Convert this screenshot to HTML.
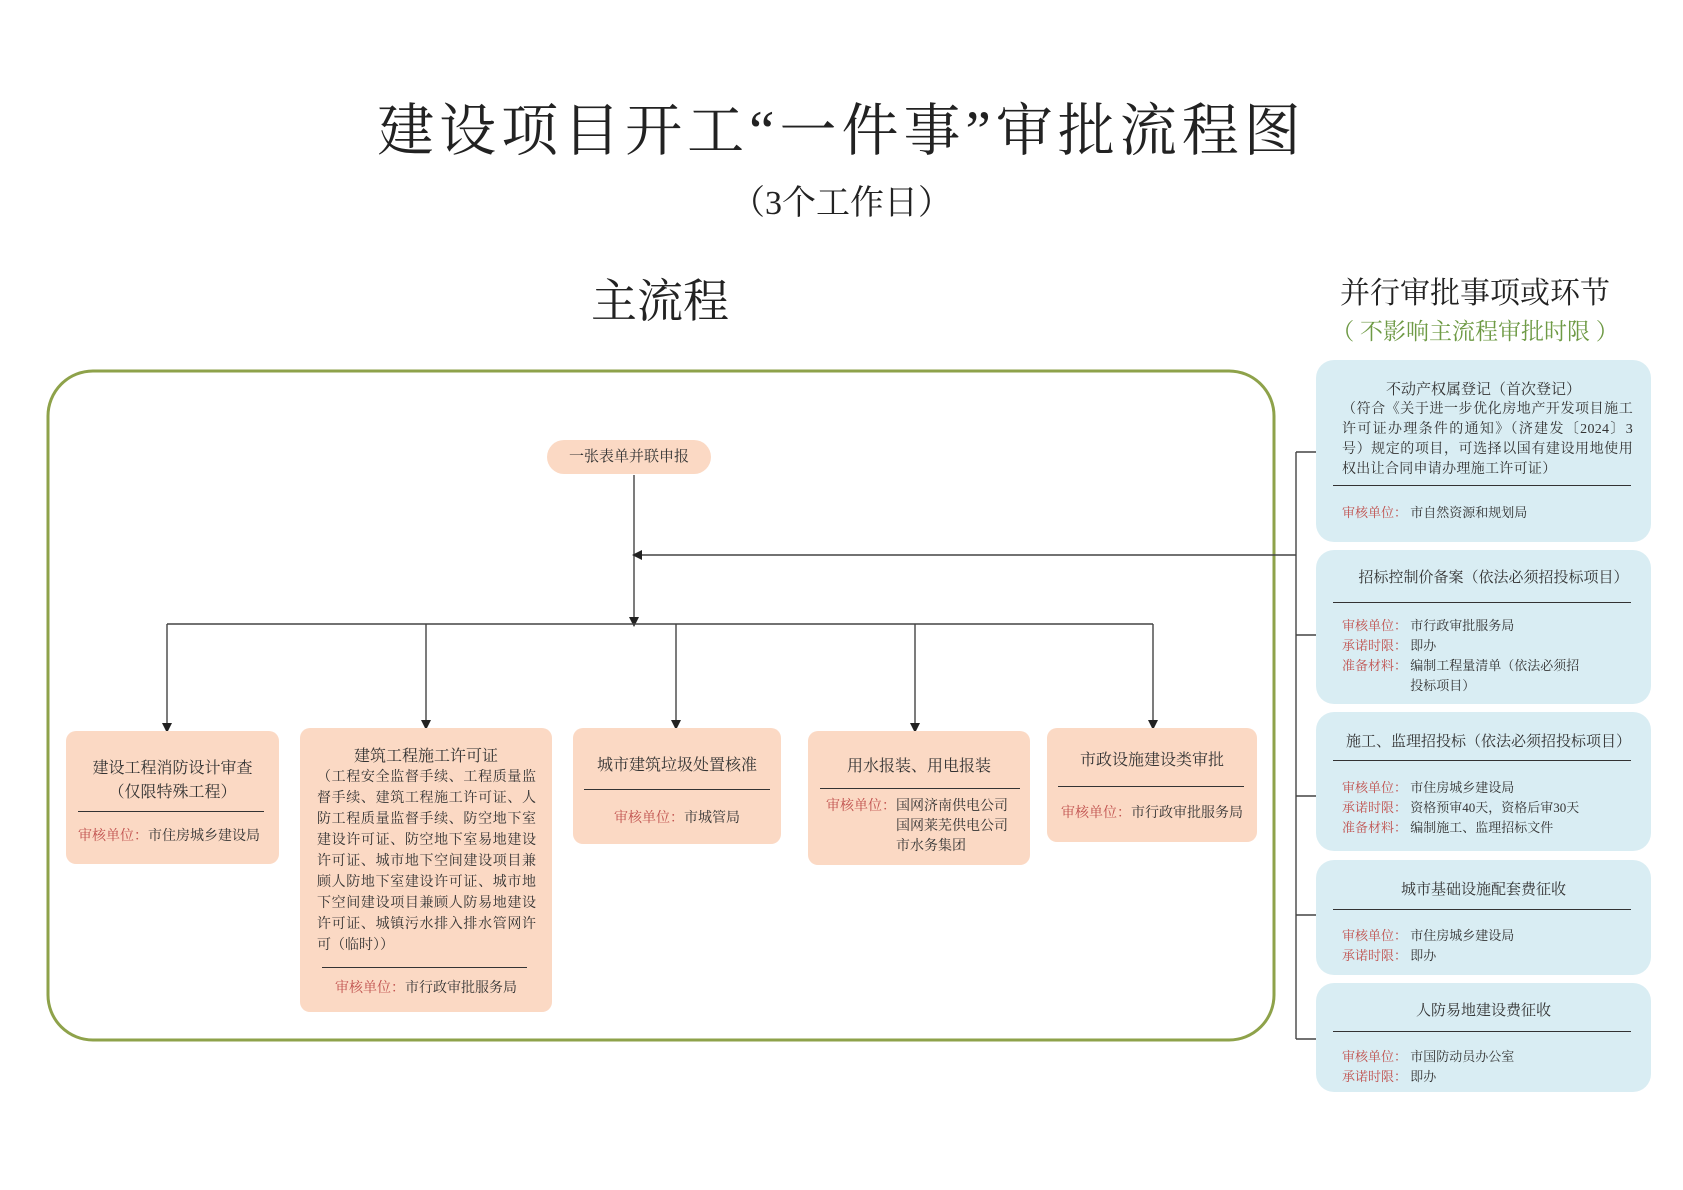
<!DOCTYPE html>
<html><head><meta charset="utf-8">
<style>
body{margin:0;width:1683px;height:1190px;background:#fff;position:relative;overflow:hidden;font-family:"Liberation Serif","Noto Serif CJK SC",serif;color:#333}
.a{position:absolute}
.c{text-align:center}
.o{background:#fbd9c4;border-radius:10px;position:absolute;font-size:15px;line-height:21px}
.b{background:#d9edf3;border-radius:18px;position:absolute;font-size:14px;line-height:20px}
.hr{border-top:1.5px solid #333;position:absolute}
.r{color:#c0504d}
</style></head><body>
<div class="a c" style="left:0;width:1683px;top:92px;font-size:57px;letter-spacing:5px;line-height:80px;color:#222">建设项目开工“一件事”审批流程图</div>
<div class="a c" style="left:0;width:1683px;top:182px;font-size:34px;line-height:44px;color:#222">（3个工作日）</div>
<div class="a c" style="left:560px;width:200px;top:272px;font-size:46px;line-height:60px;color:#222">主流程</div>
<div class="a c" style="left:1310px;width:330px;top:274px;font-size:30px;line-height:40px;color:#222">并行审批事项或环节</div>
<div class="a c" style="left:1310px;width:330px;top:317px;font-size:23px;line-height:30px;color:#6e9a45">（ 不影响主流程审批时限 ）</div>

<svg class="a" style="left:0;top:0" width="1683" height="1190">
<defs><marker id="m" markerWidth="10" markerHeight="10" refX="5" refY="5" orient="auto" markerUnits="userSpaceOnUse"><path d="M0,0 L10,5 L0,10 z" fill="#222"/></marker></defs>
<rect x="48" y="371" width="1226" height="669" rx="45" fill="none" stroke="#8ea24a" stroke-width="3"/>
<g stroke="#444" stroke-width="1.4" fill="none">
<line x1="634" y1="475" x2="634" y2="622" marker-end="url(#m)"/>
<line x1="1296" y1="555" x2="637" y2="555" marker-end="url(#m)"/>
<line x1="167" y1="624" x2="1153" y2="624"/>
<line x1="167" y1="624" x2="167" y2="728" marker-end="url(#m)"/>
<line x1="426" y1="624" x2="426" y2="725" marker-end="url(#m)"/>
<line x1="676" y1="624" x2="676" y2="725" marker-end="url(#m)"/>
<line x1="915" y1="624" x2="915" y2="728" marker-end="url(#m)"/>
<line x1="1153" y1="624" x2="1153" y2="725" marker-end="url(#m)"/>
<line x1="1296" y1="452" x2="1296" y2="1039"/>
<line x1="1296" y1="452" x2="1316" y2="452"/>
<line x1="1296" y1="635" x2="1316" y2="635"/>
<line x1="1296" y1="796" x2="1316" y2="796"/>
<line x1="1296" y1="915" x2="1316" y2="915"/>
<line x1="1296" y1="1039" x2="1316" y2="1039"/>
</g></svg>

<div class="o c" style="left:547px;top:440px;width:164px;height:34px;border-radius:17px;line-height:34px">一张表单并联申报</div>

<div class="o" style="left:66px;top:731px;width:213px;height:133px">
<div class="c" style="margin-top:26px;font-size:16px;line-height:24px">建设工程消防设计审查<br>（仅限特殊工程）</div>
<div class="hr" style="left:12px;right:15px;top:80px"></div>
<div class="a" style="left:12px;top:95px;font-size:14px"><span class="r">审核单位：</span>市住房城乡建设局</div></div>

<div class="o" style="left:300px;top:728px;width:252px;height:284px">
<div class="c" style="margin-top:18px;font-size:16px">建筑工程施工许可证</div>
<div style="padding:0 16px 0 17px;font-size:14px;line-height:21px;text-align:justify">（工程安全监督手续、工程质量监督手续、建筑工程施工许可证、人防工程质量监督手续、防空地下室建设许可证、防空地下室易地建设许可证、城市地下空间建设项目兼顾人防地下室建设许可证、城市地下空间建设项目兼顾人防易地建设许可证、城镇污水排入排水管网许可（临时））</div>
<div class="hr" style="left:22px;right:25px;top:239px"></div>
<div class="a c" style="left:0;right:0;top:250px;font-size:14px"><span class="r">审核单位：</span>市行政审批服务局</div></div>

<div class="o" style="left:573px;top:728px;width:208px;height:116px">
<div class="c" style="margin-top:27px;font-size:16px">城市建筑垃圾处置核准</div>
<div class="hr" style="left:11px;right:11px;top:61px"></div>
<div class="a c" style="left:0;right:0;top:80px;font-size:14px"><span class="r">审核单位：</span>市城管局</div></div>

<div class="o" style="left:808px;top:731px;width:222px;height:134px">
<div class="c" style="margin-top:25px;font-size:16px">用水报装、用电报装</div>
<div class="hr" style="left:12px;right:10px;top:57px"></div>
<div class="a" style="left:18px;top:66px;font-size:14px;line-height:20px"><span class="r">审核单位：</span>国网济南供电公司<br><span style="visibility:hidden">审核单位：</span>国网莱芜供电公司<br><span style="visibility:hidden">审核单位：</span>市水务集团</div></div>

<div class="o" style="left:1047px;top:728px;width:210px;height:114px">
<div class="c" style="margin-top:22px;font-size:16px">市政设施建设类审批</div>
<div class="hr" style="left:11px;right:13px;top:58px"></div>
<div class="a c" style="left:0;right:0;top:75px;font-size:14px"><span class="r">审核单位：</span>市行政审批服务局</div></div>

<div class="b" style="left:1316px;top:360px;width:335px;height:182px">
<div class="c" style="margin-top:20px;font-size:15px">不动产权属登记（首次登记）</div>
<div style="padding:0 18px 0 26px;font-size:14px;letter-spacing:0.3px;line-height:20px;text-align:justify">（符合《关于进一步优化房地产开发项目施工许可证办理条件的通知》（济建发〔2024〕3号）规定的项目，可选择以国有建设用地使用权出让合同申请办理施工许可证）</div>
<div class="hr" style="left:17px;right:20px;top:125px"></div>
<div class="a" style="left:26px;top:143px;font-size:13px"><span class="r">审核单位：</span> 市自然资源和规划局</div></div>

<div class="b" style="left:1316px;top:550px;width:335px;height:154px">
<div class="c" style="margin-top:18px;font-size:15px;padding-left:20px">招标控制价备案（依法必须招投标项目）</div>
<div class="hr" style="left:17px;right:20px;top:52px"></div>
<div class="a" style="left:26px;top:66px;font-size:13px;line-height:20px"><span class="r">审核单位：</span> 市行政审批服务局<br><span class="r">承诺时限：</span> 即办<br><span class="r">准备材料：</span> 编制工程量清单（依法必须招<br><span style="visibility:hidden">准备材料：</span> 投标项目）</div></div>

<div class="b" style="left:1316px;top:712px;width:335px;height:139px">
<div class="c" style="margin-top:20px;font-size:15px;padding-left:10px">施工、监理招投标（依法必须招投标项目）</div>
<div class="hr" style="left:17px;right:20px;top:48px"></div>
<div class="a" style="left:26px;top:66px;font-size:13px;line-height:20px"><span class="r">审核单位：</span> 市住房城乡建设局<br><span class="r">承诺时限：</span> 资格预审40天，资格后审30天<br><span class="r">准备材料：</span> 编制施工、监理招标文件</div></div>

<div class="b" style="left:1316px;top:860px;width:335px;height:115px">
<div class="c" style="margin-top:20px;font-size:15px">城市基础设施配套费征收</div>
<div class="hr" style="left:17px;right:20px;top:49px"></div>
<div class="a" style="left:26px;top:66px;font-size:13px;line-height:20px"><span class="r">审核单位：</span> 市住房城乡建设局<br><span class="r">承诺时限：</span> 即办</div></div>

<div class="b" style="left:1316px;top:983px;width:335px;height:109px">
<div class="c" style="margin-top:18px;font-size:15px">人防易地建设费征收</div>
<div class="hr" style="left:17px;right:20px;top:48px"></div>
<div class="a" style="left:26px;top:64px;font-size:13px;line-height:20px"><span class="r">审核单位：</span> 市国防动员办公室<br><span class="r">承诺时限：</span> 即办</div></div>
</body></html>
